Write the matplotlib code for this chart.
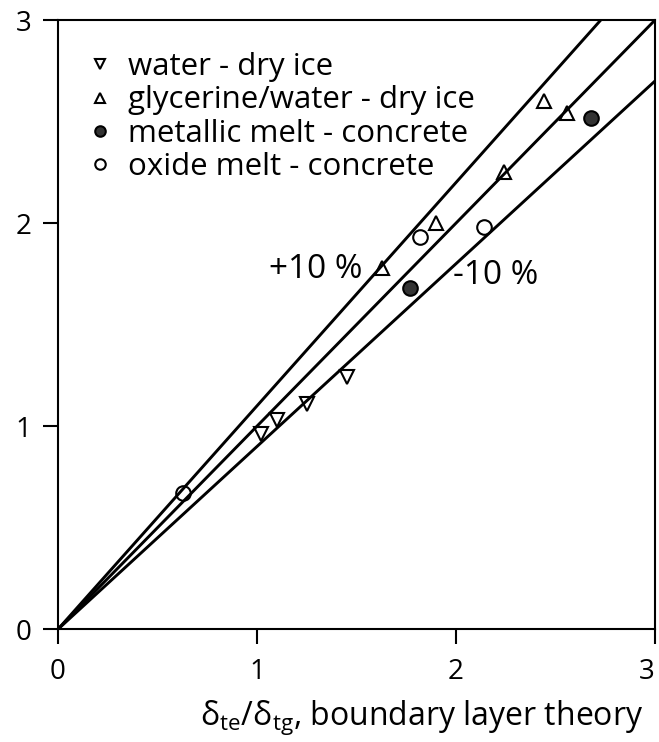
import numpy as np
import matplotlib.pyplot as plt

plt.rcParams['font.family'] = ['Open Sans', 'DejaVu Sans']
plt.rcParams['mathtext.fontset'] = 'custom'
plt.rcParams['mathtext.rm'] = 'Open Sans'

# delta_te/delta_tg from experiments vs. boundary layer theory
water_x = [1.02, 1.10, 1.25, 1.45]
water_y = [0.96, 1.03, 1.11, 1.24]
glyc_x = [1.63, 1.90, 2.24, 2.44, 2.56]
glyc_y = [1.78, 2.00, 2.25, 2.60, 2.54]
metal_x = [1.77, 2.68]
metal_y = [1.68, 2.52]
oxide_x = [0.63, 1.82, 2.14]
oxide_y = [0.67, 1.93, 1.98]

# +10 %, exact, -10 %
slopes = [1.1, 1.0, 0.9]
ticks = [0, 1, 2, 3]

fig = plt.figure(figsize=(6.59, 7.42), dpi=100)
ax = fig.add_axes([0.088, 0.152, 0.906, 0.821])

xs = np.array([0.0, 3.5])
for k in slopes:
    ax.plot(xs, k * xs, color='k', lw=2.1, zorder=2)

mk = dict(linestyle='none', color='k', mew=1.5, ms=10.5, zorder=3)
ax.plot(water_x, water_y, marker='v', mfc='none', label='water - dry ice', **mk)
ax.plot(glyc_x, glyc_y, marker='^', mfc='none', label='glycerine/water - dry ice', **mk)
ax.plot(metal_x, metal_y, marker='o', mfc='#333333', label='metallic melt - concrete', **mk)
ax.plot(oxide_x, oxide_y, marker='o', mfc='none', label='oxide melt - concrete', **mk)

ax.text(1.53, 1.77, '+10 %', fontsize=24, ha='right', va='center')
ax.text(1.985, 1.74, '-10 %', fontsize=24, ha='left', va='center')

ax.legend(loc='upper left', bbox_to_anchor=(0.049, 0.947), frameon=False,
          fontsize=22.5, handlelength=0.8, handletextpad=0.5,
          labelspacing=0.1, markerscale=0.72, borderaxespad=0.0, borderpad=0.0)

ax.set_xlim(0, 3)
ax.set_ylim(0, 3)
ax.set_xticks(ticks)
ax.set_yticks(ticks)
ax.tick_params(direction='out', length=11, width=1.5, labelsize=20)
ax.tick_params(axis='x', pad=10)
ax.tick_params(axis='y', pad=8)
ax.get_xticklabels()[-1].set_ha('right')
for s in ax.spines.values():
    s.set_linewidth(1.5)

ax.set_xlabel(r'$\mathrm{δ}_{\mathrm{te}}/\mathrm{δ}_{\mathrm{tg}}$, boundary layer theory',
              fontsize=23, ha='right', va='top')
ax.xaxis.set_label_coords(0.98, -0.113)

fig.savefig('out.png', dpi=100)
